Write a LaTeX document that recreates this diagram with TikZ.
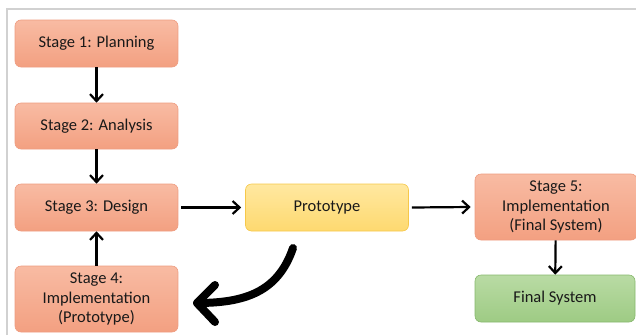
\documentclass[tikz,border=0pt]{standalone}
\usepackage{fontspec}
\setmainfont{Carlito}
\usetikzlibrary{arrows.meta}
\definecolor{salmonT}{HTML}{F8BBA3}
\definecolor{salmonB}{HTML}{F3A081}
\definecolor{salmonD}{HTML}{EE9C80}
\definecolor{yelT}{HTML}{FFE8A0}
\definecolor{yelB}{HTML}{FED970}
\definecolor{yelD}{HTML}{F6C84A}
\definecolor{grnT}{HTML}{B9DBA4}
\definecolor{grnB}{HTML}{9ECB84}
\definecolor{grnD}{HTML}{86B86C}
\tikzset{
  box/.style={draw, rounded corners=6pt, minimum width=163pt, align=center,
    font=\fontsize{16.5}{19.5}\selectfont, text=black!90, line width=0.6pt, inner sep=1pt},
  salmon/.style={box, draw=salmonD, top color=salmonT, bottom color=salmonB},
  yel/.style={box, draw=yelD, top color=yelT, bottom color=yelB},
  grn/.style={box, draw=grnD, top color=grnT, bottom color=grnB},
  conn/.style={-{Straight Barb[length=7pt,width=13pt,line width=2.2pt]}, line width=2.2pt, black}
}
\begin{document}
\begin{tikzpicture}[x=1pt,y=-1pt]
\useasboundingbox (0,0) rectangle (636,335);
\draw[black!18, line width=1.2pt] (7,335) -- (7,9) -- (636,9);
\node[salmon, minimum height=47pt] (s1) at (96.5,43.5) {\raisebox{-1pt}{Stage 1: Planning}};
\node[salmon, minimum height=46pt] (s2) at (96.5,126) {\raisebox{-1pt}{Stage 2: Analysis}};
\node[salmon, minimum height=47pt] (s3) at (96.5,207.5) {Stage 3: Design};
\node[salmon, minimum height=66pt] (s4) at (96.5,299) {Stage 4:\\Implementation\\(Prototype)};
\node[yel, minimum height=47pt] (pr) at (327,207.5) {Prototype};
\node[salmon, minimum height=66pt, minimum width=162pt] (s5) at (556,207) {Stage 5:\\Implementation\\(Final System)};
\node[grn, minimum height=47pt, minimum width=160pt] (fs) at (555,298.5) {\raisebox{-1pt}{Final System}};
\draw[conn] (s1) -- (s2);
\draw[conn] (s2) -- (s3);
\draw[conn] ([xshift=3pt]s3.east) -- ([xshift=-4pt]pr.west);
\draw[conn] ([xshift=3pt]pr.east) -- ([xshift=-4pt]s5.west);
\draw[conn] (s5) -- (fs);
\draw[conn] (s4) -- (s3);
\coordinate (ca) at (293,248);
\coordinate (cb) at (197,303);
\draw[line width=8pt, line cap=round] (ca) .. controls (278,292) and (245,303) .. (cb);
\draw[line width=8pt, line cap=round, line join=round] ([shift={(18,-18)}]cb) -- (cb) -- ([shift={(18,19)}]cb);
\end{tikzpicture}
\end{document}
